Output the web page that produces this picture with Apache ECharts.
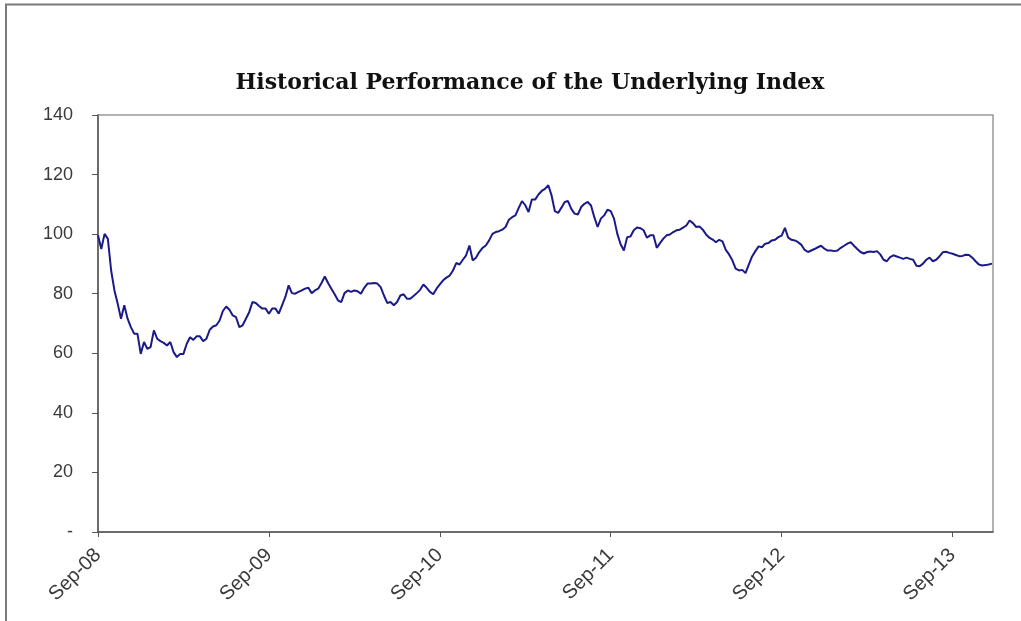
<!DOCTYPE html>
<html>
<head>
<meta charset="utf-8">
<title>Historical Performance of the Underlying Index</title>
<script src="https://cdn.jsdelivr.net/npm/echarts@6.0.0/dist/echarts.min.js"></script>
<style>
  html, body { margin: 0; padding: 0; background: #fff; }
  #chart { width: 1021px; height: 621px; }
</style>
</head>
<body>
<div id="chart"></div>
<script>
// weekly index levels, week 0 = start of Sep 2008
const indexLevels = [
  99.6, 95.0, 100.1, 98.4, 87.8, 81.1, 76.6, 71.6, 76.1, 71.6,
  68.8, 66.6, 66.6, 59.8, 63.8, 61.5, 62.1, 67.7, 64.9, 64.1,
  63.5, 62.6, 63.8, 60.4, 58.7, 59.8, 59.8, 63.2, 65.4, 64.5,
  65.7, 65.7, 64.1, 64.9, 67.9, 69.0, 69.4, 71.0, 74.2, 75.7,
  74.6, 72.7, 72.1, 68.8, 69.4, 71.6, 73.8, 77.2, 76.9, 75.9,
  75.0, 75.0, 73.3, 75.0, 75.0, 73.3, 76.1, 78.9, 82.8, 80.2,
  80.0, 80.6, 81.1, 81.7, 82.0, 80.2, 81.1, 81.7, 83.6, 85.8,
  83.6, 81.7, 79.8, 77.8, 77.2, 80.2, 81.1, 80.6, 81.1, 80.8,
  80.0, 82.0, 83.4, 83.4, 83.6, 83.4, 82.2, 79.4, 76.9, 77.2,
  76.1, 77.2, 79.4, 79.8, 78.3, 78.3, 79.2, 80.2, 81.3, 83.1,
  82.0, 80.6, 79.8, 81.7, 83.1, 84.5, 85.4, 86.1, 87.8, 90.3,
  89.8, 91.4, 92.9, 96.2, 91.2, 92.1, 94.0, 95.4, 96.2, 97.9,
  100.1, 100.7, 101.0, 101.5, 102.4, 104.8, 105.7, 106.3, 108.8, 111.1,
  109.7, 107.4, 111.6, 111.6, 113.3, 114.5, 115.2, 116.4, 113.0, 107.7,
  107.1, 108.9, 110.8, 111.1, 108.5, 106.9, 106.6, 109.1, 110.2, 110.8,
  109.6, 105.7, 102.4, 105.2, 106.3, 108.2, 107.7, 105.2, 100.1, 96.6,
  94.5, 99.0, 99.2, 101.3, 102.2, 102.0, 101.3, 98.8, 99.6, 99.6,
  95.4, 97.0, 98.5, 99.6, 99.9, 100.7, 101.3, 101.5, 102.2, 102.9,
  104.6, 103.7, 102.4, 102.6, 101.5, 99.9, 98.8, 98.2, 97.3, 98.1,
  97.6, 94.7, 93.2, 91.2, 88.4, 87.8, 88.0, 86.9, 89.8, 92.5,
  94.3, 95.9, 95.6, 96.8, 97.0, 97.9, 98.1, 99.0, 99.5, 102.1,
  98.8, 98.1, 97.9, 97.3, 96.4, 94.7, 94.0, 94.5, 95.0, 95.6,
  96.1, 95.1, 94.5, 94.5, 94.3, 94.5, 95.4, 96.1, 96.8, 97.3,
  96.1, 95.0, 94.0, 93.5, 94.0, 94.2, 94.0, 94.3, 93.2, 91.4,
  90.9, 92.3, 92.9, 92.5, 92.1, 91.7, 92.1, 91.7, 91.4, 89.4,
  89.2, 90.1, 91.4, 92.1, 90.9, 91.4, 92.5, 93.9, 94.1, 93.7,
  93.4, 93.0, 92.6, 92.7, 93.1, 93.0, 92.1, 90.9, 89.8, 89.5,
  89.6, 89.8, 90.1
];

// x axis: weeks since Sep-08, one label per September
const yearLabels = ["Sep-08", "Sep-09", "Sep-10", "Sep-11", "Sep-12", "Sep-13"];
const weeksPerYear = 52;
const lastWeek = 272.3;

const yTicks = [0, 20, 40, 60, 80, 100, 120, 140];

const seriesData = indexLevels.map((v, i) => [i, v]);
const yearTicks = yearLabels.map((_, i) => i * weeksPerYear);

const chart = echarts.init(document.getElementById("chart"));

chart.setOption({
  animation: false,
  backgroundColor: "#fff",
  graphic: [
    {
      type: "polyline",
      shape: { points: [[6, 621], [6, 4.5], [1021, 4.5]] },
      style: { stroke: "#7a7a7a", lineWidth: 2, fill: null },
      silent: true
    },
    {
      type: "text",
      x: 530,
      y: 83,
      style: {
        text: "Historical Performance of the Underlying Index",
        font: "bold 22px 'DejaVu Serif'",
        fill: "#111",
        align: "center",
        verticalAlign: "middle"
      },
      silent: true
    }
  ],
  grid: {
    left: 98,
    right: 28,
    top: 115,
    bottom: 89,
    show: true,
    borderColor: "#999",
    borderWidth: 1.5,
    backgroundColor: "#fff"
  },
  xAxis: {
    type: "value",
    min: 0,
    max: lastWeek,
    interval: weeksPerYear,
    splitLine: { show: false },
    axisLine: { lineStyle: { color: "#555", width: 1.5 } },
    axisTick: {
      length: 5,
      lineStyle: { color: "#555" },
      customValues: yearTicks
    },
    axisLabel: {
      customValues: yearTicks,
      rotate: 45,
      margin: 20,
      color: "#3a3a3a",
      fontFamily: "Liberation Sans",
      fontSize: 20,
      formatter: (v) => yearLabels[Math.round(v / weeksPerYear)] || ""
    }
  },
  yAxis: {
    type: "value",
    min: yTicks[0],
    max: yTicks[yTicks.length - 1],
    interval: 20,
    splitLine: { show: false },
    axisLine: { show: true, lineStyle: { color: "#555", width: 1.5 } },
    axisTick: { show: true, length: 6, lineStyle: { color: "#555" } },
    axisLabel: {
      margin: 25,
      color: "#3a3a3a",
      fontFamily: "Liberation Sans",
      fontSize: 18,
      formatter: (v) => (v === 0 ? "-" : String(v))
    }
  },
  series: [
    {
      type: "line",
      data: seriesData,
      showSymbol: false,
      smooth: false,
      lineStyle: { color: "#1a1a88", width: 2 }
    }
  ]
});
</script>
</body>
</html>
